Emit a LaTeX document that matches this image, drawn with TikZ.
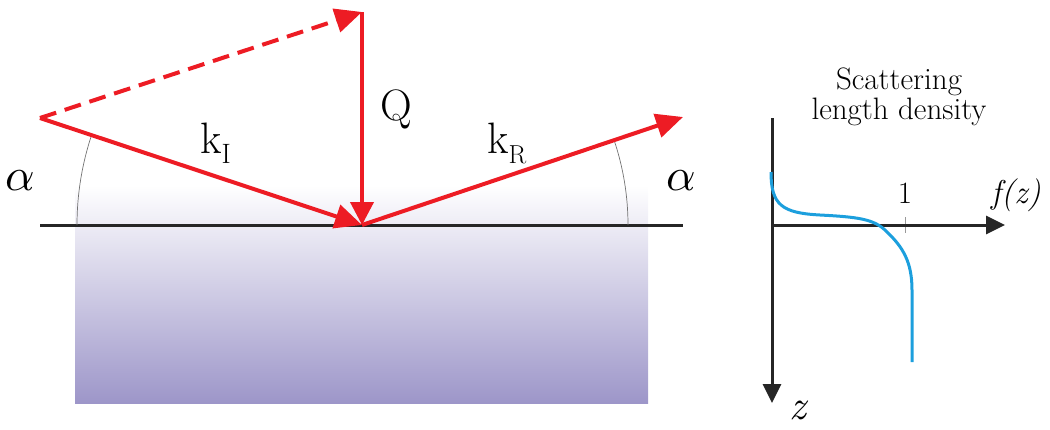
\documentclass[tikz,border=0pt]{standalone}
\usepackage{fontspec}
\usepackage{graphicx}
\usetikzlibrary{arrows.meta}
\definecolor{vred}{HTML}{ED1C24}
\definecolor{lav}{HTML}{9D96C9}
\definecolor{curveblue}{HTML}{1C9FDD}
\begin{document}
\begin{tikzpicture}[x=1pt,y=-1pt,
  vec/.style={draw=vred, line width=4pt, -{Triangle[length=27pt,width=24pt]}},
  dvec/.style={vec, dash pattern=on 17pt off 9pt},
  surface/.style={draw=black!85, line width=3pt},
  anglearc/.style={draw=black!55, line width=0.7pt},
  axis/.style={draw=black!85, line width=3pt, -{Triangle[length=19pt,width=18pt]}},
  big/.style={inner sep=0pt, font=\fontsize{44}{50}\selectfont},
  mid/.style={inner sep=0pt, font=\fontsize{31}{36}\selectfont},
  alphalbl/.style={inner sep=0pt, font=\normalsize}
]
\useasboundingbox (0,0) rectangle (1050,429);
% substrate
\shade[top color=white, bottom color=lav] (75,185) rectangle (648,403);
% coordinates
\coordinate (O) at (362,225);
\coordinate (A) at (40,118);
\coordinate (T) at (362,12);
\coordinate (R) at (683,117);
\coordinate (L1) at (40,225);
\coordinate (L2) at (683,225);
% surface line
\draw[surface] (L1) -- (L2);
% angle arcs
\draw[anglearc] (O) ++(180:285pt) arc[start angle=180, end angle=161.6, radius=285pt];
\draw[anglearc] (O) ++(0:266pt) arc[start angle=0, end angle=18.6, radius=266pt];
% vectors
\draw[dvec] (A) -- (T);
\draw[vec] (A) -- (O);
\draw[vec, -{Triangle[length=23pt,width=23pt]}] (T) -- (O);
\draw[vec] (O) -- (R);
% labels
\node[alphalbl, anchor=base west] (a1) at (5,190) {\scalebox{4.6}{$\alpha$}};
\node[alphalbl, anchor=base west] (a2) at (666,190) {\scalebox{4.6}{$\alpha$}};
\node[big, anchor=base west] (kI) at (200,153) {k\raisebox{-10pt}{\fontsize{28}{28}\selectfont I}};
\node[big, anchor=base west] (kR) at (487,153) {k\raisebox{-10pt}{\fontsize{26}{26}\selectfont R}};
\node[big, anchor=base west] (Q) at (380,120) {Q};
% SLD plot
\coordinate (P0) at (772,225);
\coordinate (Vtop) at (772,118);
\coordinate (Vend) at (772,403);
\coordinate (Hend) at (1005,225);
\coordinate (tk1) at (905,217);
\coordinate (tk2) at (905,233);
\draw[draw=black!40, line width=1pt] (tk1) -- (tk2);
\draw[axis] (Vtop) -- (Vend);
\draw[axis] (P0) -- (Hend);
\draw[draw=curveblue, line width=3pt]
  (771,172) .. controls (771,205) and (782,213) .. (820,215)
  .. controls (858,217) and (874,219) .. (886,231)
  .. controls (903,247) and (912,262) .. (912,290) -- (912,362);
\node[mid, align=center, anchor=base] (title) at (899,119) {Scattering\\[-6pt]length density};
\node[mid, anchor=base] (one) at (905,203) {1};
\node[inner sep=0pt, anchor=base west, font=\itshape\fontsize{33}{36}\selectfont] (fz) at (991,203) {f(z)};
\node[inner sep=0pt, anchor=base west, font=\itshape\fontsize{42}{50}\selectfont] (z) at (789,419) {z};
\end{tikzpicture}
\end{document}
